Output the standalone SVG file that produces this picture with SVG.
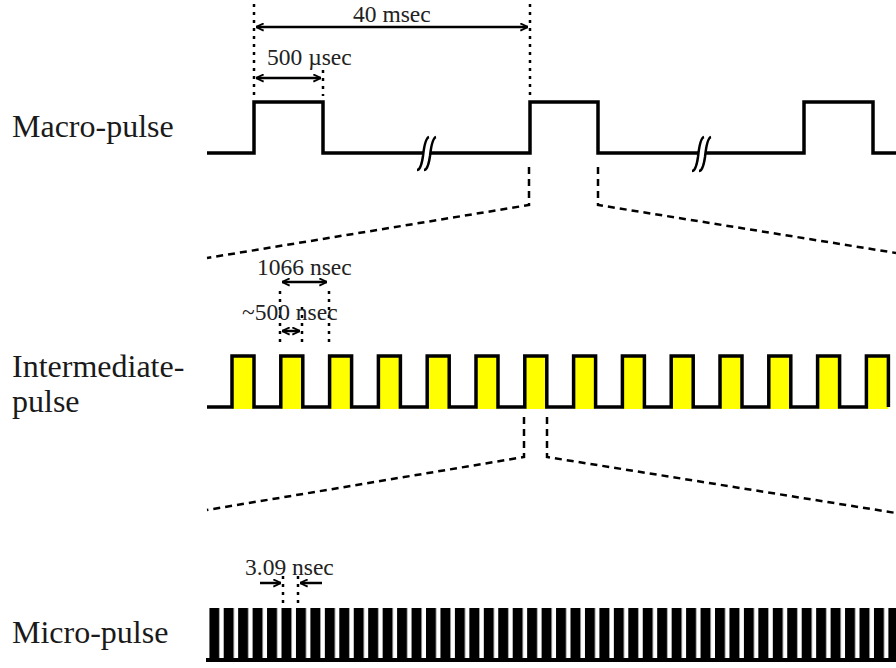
<svg xmlns="http://www.w3.org/2000/svg" width="896" height="668" viewBox="0 0 896 668">
<style>
.lbl{font-family:"Liberation Serif","Times New Roman",serif;font-size:32px;fill:#1a1a1a}
.dim{font-family:"Liberation Serif","Times New Roman",serif;font-size:23.5px;fill:#222}
.wave{fill:none;stroke:#000;stroke-width:3.5;stroke-linejoin:miter}
.dot{fill:none;stroke:#000;stroke-width:2.5;stroke-dasharray:3 5}
.dash{fill:none;stroke:#000;stroke-width:2.5;stroke-dasharray:7 5}
.arr{fill:none;stroke:#000;stroke-width:2.5}
.brk{fill:none;stroke:#000;stroke-width:2.5}
.yel{fill:#ffff00}
</style>
<defs>
<marker id="ah" viewBox="0 0 10 10" refX="9.5" refY="5" markerWidth="9" markerHeight="9" markerUnits="userSpaceOnUse" orient="auto-start-reverse">
<path d="M1,1 L9.5,5 L1,9" fill="none" stroke="#000" stroke-width="2"/>
</marker>
<pattern id="micro" patternUnits="userSpaceOnUse" x="209.25" y="608" width="14.45" height="54">
<rect x="0" y="0" width="10" height="54" fill="#000"/>
</pattern>
</defs>

<g id="labels">
<text class="lbl" x="12" y="137">Macro-pulse</text>
<text class="lbl" x="12" y="377">Intermediate-</text>
<text class="lbl" x="12" y="412">pulse</text>
<text class="lbl" x="12" y="643">Micro-pulse</text>
</g>

<g id="macro-pulse">
<path class="wave" d="M207,153 H254 V102 H323 V153 H530 V102 H598 V153 H804 V102 H873 V153 H896"/>
<rect x="424" y="150" width="7" height="6" fill="#fff"/>
<path class="brk" d="M417,170 Q421,170 423,156 Q425,138 429,137"/>
<path class="brk" d="M424,170 Q428,170 430,156 Q432,138 436,137"/>
<rect x="699" y="150" width="7" height="6" fill="#fff"/>
<path class="brk" d="M692,171 Q696,171 698,157 Q700,138 704,137"/>
<path class="brk" d="M699,171 Q703,171 705,157 Q707,138 711,137"/>
</g>

<g id="intermediate-pulse">
<g class="yel">
<rect x="232" y="356" width="22" height="53"/>
<rect x="280.8" y="356" width="22" height="53"/>
<rect x="329.6" y="356" width="22" height="53"/>
<rect x="378.4" y="356" width="22" height="53"/>
<rect x="427.2" y="356" width="22" height="53"/>
<rect x="476" y="356" width="22" height="53"/>
<rect x="524.8" y="356" width="22" height="53"/>
<rect x="573.6" y="356" width="22" height="53"/>
<rect x="622.4" y="356" width="22" height="53"/>
<rect x="671.2" y="356" width="22" height="53"/>
<rect x="720" y="356" width="22" height="53"/>
<rect x="768.8" y="356" width="22" height="53"/>
<rect x="817.6" y="356" width="22" height="53"/>
<rect x="866.4" y="356" width="22" height="53"/>
</g>
<path class="wave" d="M207,407 H232 V356 H254 V407 H280.8 V356 H302.8 V407 H329.6 V356 H351.6 V407 H378.4 V356 H400.4 V407 H427.2 V356 H449.2 V407 H476 V356 H498 V407 H524.8 V356 H546.8 V407 H573.6 V356 H595.6 V407 H622.4 V356 H644.4 V407 H671.2 V356 H693.2 V407 H720 V356 H742 V407 H768.8 V356 H790.8 V407 H817.6 V356 H839.6 V407 H866.4 V356 H888.4 V407"/>
</g>

<g id="micro-pulse">
<line x1="206" y1="660" x2="896" y2="660" stroke="#000" stroke-width="4"/>
<rect x="209.25" y="608" width="686.75" height="54" fill="url(#micro)"/>
</g>

<g id="connectors">
<path class="dot" d="M254,4 V96"/>
<path class="dot" d="M530,4 V96"/>
<path class="dot" d="M323,70 V96"/>
<line class="arr" x1="256" y1="27" x2="528" y2="27" marker-start="url(#ah)" marker-end="url(#ah)"/>
<line class="arr" x1="256" y1="78" x2="321" y2="78" marker-start="url(#ah)" marker-end="url(#ah)"/>

<path class="dash" d="M529,167 V205 L207,258"/>
<path class="dash" d="M598,167 V205 L896,253"/>
<path class="dash" d="M524,417 V457 L207,510"/>
<path class="dash" d="M547,417 V457 L896,513"/>

<path class="dot" d="M280,291 V344"/>
<path class="dot" d="M329,291 V344"/>
<path class="dot" d="M302,307 V344"/>
<line class="arr" x1="282" y1="282" x2="327" y2="282" marker-start="url(#ah)" marker-end="url(#ah)"/>
<line class="arr" x1="282" y1="331" x2="300" y2="331" marker-start="url(#ah)" marker-end="url(#ah)"/>

<path class="dot" d="M283,576 V606"/>
<path class="dot" d="M298,576 V606"/>
<line class="arr" x1="260" y1="583" x2="281" y2="583" marker-end="url(#ah)"/>
<line class="arr" x1="322" y1="583" x2="300" y2="583" marker-end="url(#ah)"/>
</g>

<g id="dimension-labels">
<text class="dim" x="353" y="22">40 msec</text>
<text class="dim" x="267" y="65">500 µsec</text>
<text class="dim" x="257" y="275">1066 nsec</text>
<text class="dim" x="242" y="320">~500 nsec</text>
<text class="dim" x="245" y="575">3.09 nsec</text>
</g>
</svg>
